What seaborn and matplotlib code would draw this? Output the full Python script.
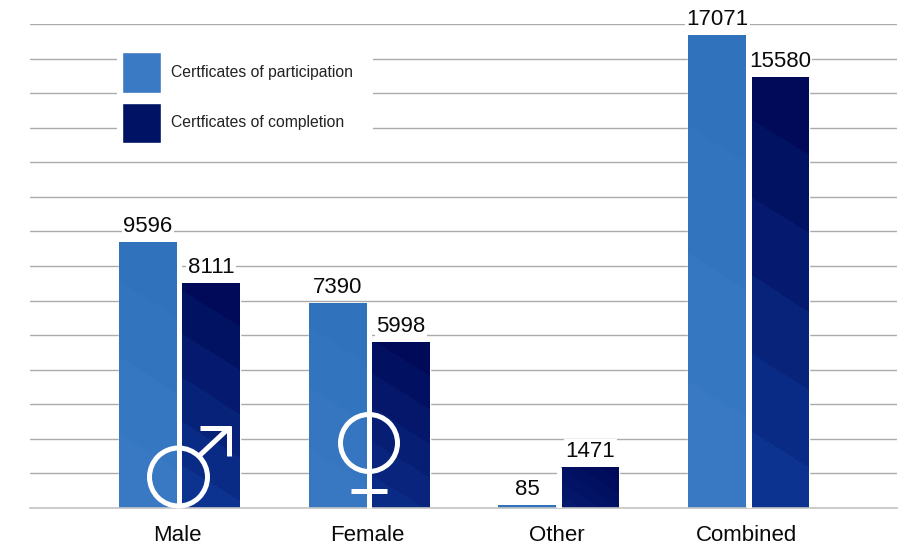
#!/usr/bin/env python3
import numpy as np
import pandas as pd
import seaborn as sns
import matplotlib.pyplot as plt
from matplotlib.colors import LinearSegmentedColormap
from matplotlib.lines import Line2D
from matplotlib.patches import Circle, Rectangle
from matplotlib.transforms import IdentityTransform, ScaledTranslation

groups = ['Male', 'Female', 'Other', 'Combined']
participation = [9596, 7390, 85, 17071]
completion = [8111, 5998, 1471, 15580]
series_names = ['Certficates of participation', 'Certficates of completion']
grid_ticks = np.arange(0, 17501, 1250)

df = pd.DataFrame({
    'group': groups * 2,
    'count': participation + completion,
    'type': [series_names[0]] * 4 + [series_names[1]] * 4,
})

sns.set_theme(style='white')
plt.rcParams['font.family'] = ['Liberation Sans', 'DejaVu Sans']

W, H = 912, 550
fig = plt.figure(figsize=(W / 100, H / 100), dpi=100)
ax = fig.add_axes([30 / W, 1 - 508 / H, (897 - 30) / W, (508 - 24) / H])

sns.barplot(data=df, x='group', y='count', hue='type', order=groups, saturation=1,
            palette=['#3A79C4', '#001264'], width=0.664, gap=0.08, ax=ax)

# grid
ax.set_yticks(grid_ticks)
ax.set_axisbelow(True)
ax.grid(axis='y', color='#ababab', linewidth=1)
ax.tick_params(axis='y', left=False, labelleft=False)
ax.tick_params(axis='x', bottom=False, labelsize=16, labelcolor='#0a0a0a', pad=6)
ax.set_xlabel('')
ax.set_ylabel('')
sns.despine(ax=ax, left=True)
ax.spines['bottom'].set_color('#c4c4c4')
ax.spines['bottom'].set_linewidth(1.2)

# tick labels sit slightly left of the group centre
shift = ScaledTranslation(-2 / 100, 0, fig.dpi_scale_trans)
for lab in ax.get_xticklabels():
    lab.set_transform(lab.get_transform() + shift)

# bars have a diagonal banded gradient
light_cmap = LinearSegmentedColormap.from_list('l', ['#3172BC', '#3C7CC6'])
dark_cmap = LinearSegmentedColormap.from_list('d', ['#000A58', '#0F3C9C'])


def paint_bar(bar, cmap, levels):
    x0, w = bar.get_x(), bar.get_width()
    h = bar.get_height()
    top_px = h * 484 / 17500
    nx, ny = 60, max(int(top_px), 2)
    xx, yy = np.meshgrid(np.arange(nx), np.arange(ny))
    t = (yy - 0.6 * xx + 36) / (top_px + 36)
    t = np.clip(t, 0, 1)
    t = np.floor(t * levels) / levels * min(1, top_px / 300 + 0.25)
    ax.imshow(t, cmap=cmap, vmin=0, vmax=1, extent=[x0, x0 + w, 0, h],
              aspect='auto', zorder=2, interpolation='nearest')


for bar in ax.containers[0]:
    paint_bar(bar, light_cmap, 4)
for bar in ax.containers[1]:
    paint_bar(bar, dark_cmap, 6)

# white slit between the two bars of a group
ax.vlines(range(len(groups)), 0, np.maximum(participation, completion),
          color='white', linewidth=3.6, zorder=3)

ax.set_xlim(-0.788, 3.782)
ax.set_ylim(0, 17500)

for cont in ax.containers:
    ax.bar_label(cont, fmt='%d', padding=4, fontsize=16, color='#0a0a0a',
                 bbox=dict(facecolor='white', edgecolor='none', pad=1.0), zorder=4)

leg = ax.legend(loc='upper left', bbox_to_anchor=(87 / 867, 1 - 23 / 484),
                fontsize=11.3, frameon=True, framealpha=1, facecolor='white',
                edgecolor='none', fancybox=False, handlelength=2.48, handleheight=3.6,
                labelspacing=0.62, handletextpad=0.6, borderpad=0.35, borderaxespad=0)
for txt in leg.get_texts():
    txt.set_color('#222222')

# legend background runs further right than the text
ax.add_patch(Rectangle((345, H - 143), 28, 98, facecolor='white', edgecolor='none',
                       transform=IdentityTransform(), zorder=4))


# gender symbols, placed in pixels from the top left
def px_line(xs, ys, lw=3.6):
    fig.add_artist(Line2D(xs, [H - y for y in ys], color='white', linewidth=lw,
                          transform=IdentityTransform(), solid_capstyle='butt'))


def px_ring(cx, cy, r, lw=3.6):
    fig.add_artist(Circle((cx, H - cy), r, facecolor='none', edgecolor='white',
                          linewidth=lw, transform=IdentityTransform()))


px_ring(178.5, 477, 29)
px_line([199, 229], [456, 428])
px_line([200, 231], [428, 428])
px_line([229, 229], [426, 456])

px_ring(369, 443, 28.5)
px_line([369, 369], [472, 508])
px_line([351, 387], [491, 491])

fig.savefig('out.png', dpi=100, facecolor='white')
